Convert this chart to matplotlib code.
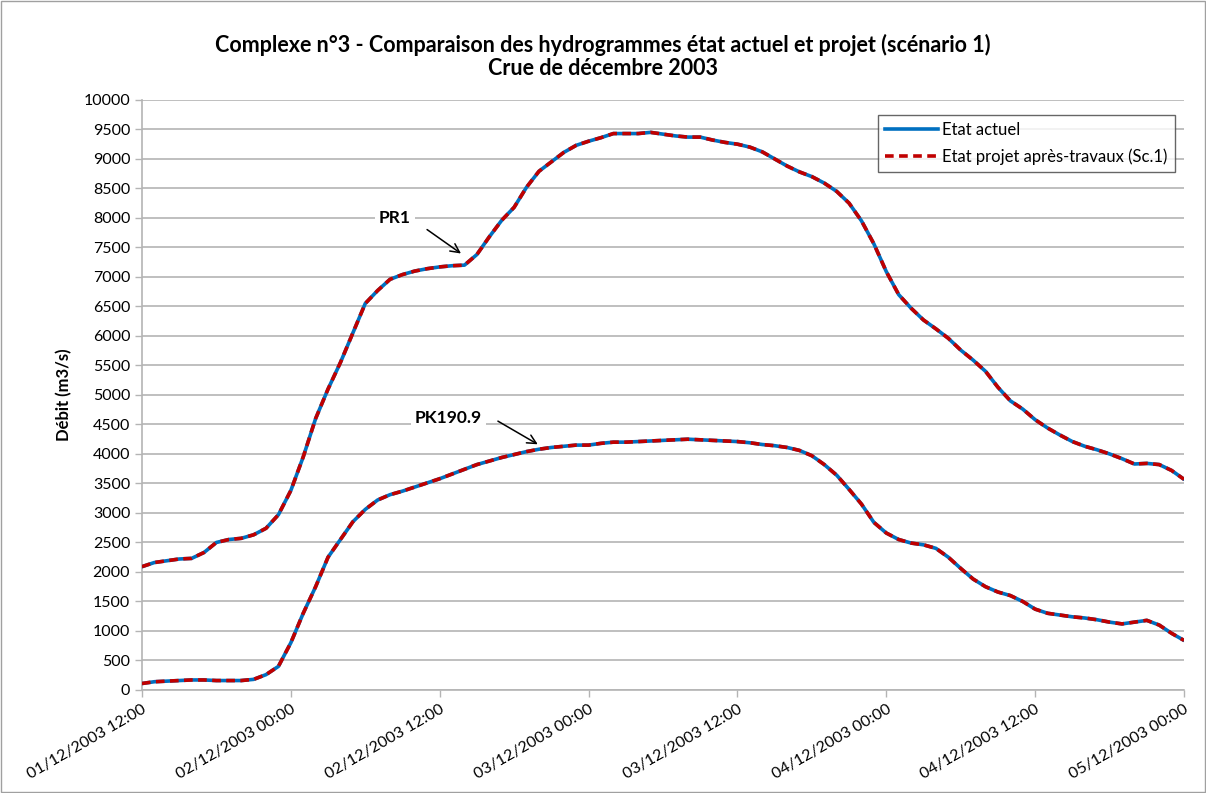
import numpy as np
import pandas as pd
import matplotlib
matplotlib.use("Agg")
import matplotlib.pyplot as plt
import matplotlib.dates as mdates

plt.rcParams['font.family'] = ['Lato', 'DejaVu Sans']

# hours since 01/12/2003 12:00
hours = list(range(0, 85))

pr1 = [2090, 2160, 2190, 2220, 2230, 2330, 2500, 2550, 2570, 2630,
       2740, 2970, 3380, 3950, 4600, 5100, 5550, 6050, 6550, 6770,
       6960, 7040, 7100, 7140, 7170, 7190, 7200, 7380, 7680, 7960,
       8180, 8520, 8790, 8950, 9110, 9230, 9300, 9360, 9430, 9430,
       9430, 9450, 9420, 9390, 9370, 9370, 9320, 9280, 9250, 9200,
       9120, 9000, 8880, 8780, 8700, 8590, 8450, 8250, 7950, 7560,
       7090, 6700, 6470, 6270, 6120, 5960, 5760, 5590, 5400, 5130,
       4900, 4760, 4580, 4440, 4320, 4210, 4130, 4070, 4000, 3920,
       3830, 3840, 3820, 3720, 3570]

pk190 = [110, 140, 150, 160, 170, 170, 160, 160, 160, 180,
         260, 400, 800, 1300, 1750, 2250, 2550, 2850, 3060, 3220,
         3310, 3370, 3440, 3510, 3580, 3660, 3740, 3820, 3880, 3940,
         3990, 4040, 4080, 4110, 4130, 4150, 4150, 4180, 4200, 4200,
         4210, 4220, 4230, 4240, 4250, 4240, 4230, 4220, 4210, 4190,
         4160, 4140, 4110, 4060, 3970, 3820, 3640, 3400, 3150, 2840,
         2660, 2550, 2490, 2460, 2400, 2250, 2060, 1880, 1750, 1660,
         1600, 1500, 1370, 1300, 1270, 1240, 1220, 1190, 1150, 1120,
         1150, 1180, 1100, 960, 840]

yticks = list(range(0, 10001, 500))
series_labels = ["Etat actuel", "Etat projet après-travaux (Sc.1)"]

t0 = pd.Timestamp("2003-12-01 12:00")
times = [t0 + pd.Timedelta(hours=h) for h in hours]
xticks = [t0 + pd.Timedelta(hours=12 * k) for k in range(8)]

blue = "#0070C0"
red = "#C00000"
gridc = "#B4B4B4"

fig = plt.figure(figsize=(12.06, 7.93), dpi=100)
ax = fig.add_axes([0.1177, 0.1299, 0.8641, 0.7441])

# blue = current state, red dashed = project (same values)
for vals in (pr1, pk190):
    ax.plot(times, vals, color=blue, lw=2.6, solid_capstyle='round', zorder=3)
    ax.plot(times, vals, color=red, lw=2.6, dashes=(2.4, 1.5), zorder=4)

ax.set_xlim(xticks[0], xticks[-1])
ax.set_ylim(0, 10000)
ax.set_yticks(yticks)
ax.set_xticks(xticks)
ax.set_xticklabels([t.strftime("%d/%m/%Y %H:%M") for t in xticks],
                   rotation=30, ha='right', va='top', rotation_mode='anchor')
ax.tick_params(axis='both', labelsize=11.5, colors='black', length=5,
               width=1, direction='out')
ax.tick_params(axis='both', color=gridc)
ax.tick_params(axis='x', pad=4)

ax.grid(axis='y', color=gridc, lw=1.2)
ax.set_axisbelow(True)
for s in ["top", "right"]:
    ax.spines[s].set_visible(False)
for s in ["left", "bottom"]:
    ax.spines[s].set_color(gridc)
    ax.spines[s].set_linewidth(1.2)

ax.set_ylabel("Débit (m3/s)", fontsize=12, fontweight='bold', labelpad=8)

fig.text(0.5, 0.943, "Complexe n°3 - Comparaison des hydrogrammes état actuel et projet (scénario 1)",
         ha='center', va='center', fontsize=15.5, fontweight='bold')
fig.text(0.5, 0.913, "Crue de décembre 2003",
         ha='center', va='center', fontsize=15.5, fontweight='bold')

# annotations
h = lambda x: t0 + pd.Timedelta(hours=x)
ax.annotate("", xy=(h(25.9), 7370), xytext=(h(22.8), 7830),
            arrowprops=dict(arrowstyle='->', color='black', lw=1.1,
                            mutation_scale=16))
ax.text(h(20.4), 8000, "PR1", ha='center', va='center', fontsize=12.5,
        fontweight='bold', zorder=5,
        bbox=dict(facecolor='white', edgecolor='none', pad=3))
ax.annotate("", xy=(h(32.1), 4140), xytext=(h(28.5), 4580),
            arrowprops=dict(arrowstyle='->', color='black', lw=1.1,
                            mutation_scale=16))
ax.text(h(24.7), 4610, "PK190.9", ha='center', va='center', fontsize=12.5,
        fontweight='bold', zorder=5,
        bbox=dict(facecolor='white', edgecolor='none', pad=3))

# legend
l1, = ax.plot([], [], color=blue, lw=2.6)
l2, = ax.plot([], [], color=red, lw=2.6, dashes=(2.4, 1.5))
leg = ax.legend([l1, l2], series_labels, loc='upper right',
                bbox_to_anchor=(0.991, 0.975), borderaxespad=0,
                fontsize=12, frameon=True,
                fancybox=False, handlelength=3.2, handletextpad=0.2,
                borderpad=0.45, labelspacing=0.6)
leg.get_frame().set_edgecolor('#404040')
leg.get_frame().set_linewidth(1.0)

# outer border
fig.patches.append(plt.Rectangle((0.001, 0.001), 0.998, 0.998,
                                 transform=fig.transFigure, fill=False,
                                 edgecolor='#A0A0A0', lw=1))

fig.savefig("out.png", dpi=100)
